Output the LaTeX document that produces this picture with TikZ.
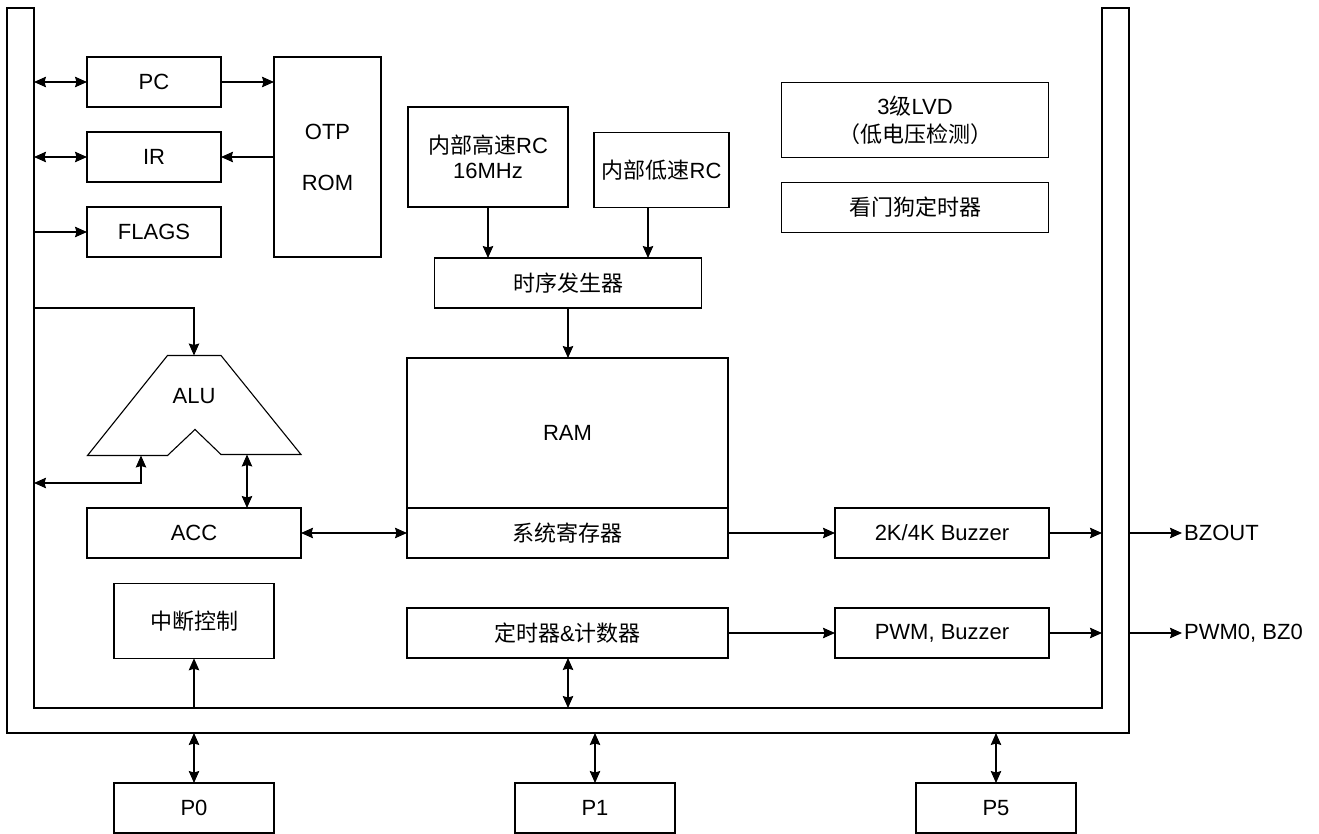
\documentclass[tikz,border=0pt]{standalone}
\usepackage{fontspec}
\setmainfont{Liberation Sans}
\newfontfamily\cjk{Noto Sans CJK SC}
\usetikzlibrary{arrows.meta}
\begin{document}
\begin{tikzpicture}[x=1pt,y=-1pt,
  box/.style={draw, line width=1.1pt, inner sep=0pt, outer sep=0pt, align=center,
    font=\fontsize{22}{25}\selectfont},
  sz/.style 2 args={minimum width=#1pt, minimum height=#2pt},
  tip/.tip={Stealth[length=12pt,width=10.5pt,inset=1.5pt]},
  con/.style={line width=1.1pt, -tip},
  dcon/.style={line width=1.1pt, tip-tip},
  lbl/.style={inner sep=2pt, anchor=west, font=\fontsize{22}{25}\selectfont},
]
\useasboundingbox (0,0) rectangle (1319,834);

% bus
\draw[line width=1.1pt] (7,8) -- (7,733) -- (1129,733) -- (1129,8) -- (1102,8)
  -- (1102,708) -- (34,708) -- (34,8) -- cycle;

% bus attachment points
\coordinate (bPC) at (34,82);
\coordinate (bIR) at (34,157);
\coordinate (bFL) at (34,232);
\coordinate (bALU) at (34,308);
\coordinate (bRet) at (34,483);
\coordinate (bINT) at (194,708);
\coordinate (bTIM) at (568,708);
\coordinate (rBZ) at (1102,533);
\coordinate (rPWM) at (1102,633);
\coordinate (oBZ) at (1129,533);
\coordinate (oPWM) at (1129,633);
\coordinate (oP0) at (194,733);
\coordinate (oP1) at (595,733);
\coordinate (oP5) at (996,733);

% left column
\node[box, sz={134}{50}] (pc) at (154,82) {PC};
\node[box, sz={134}{50}] (ir) at (154,157) {IR};
\node[box, sz={134}{50}] (fl) at (154,232) {FLAGS};
\node[box, sz={107}{200}, font=\fontsize{22}{51}\selectfont] (rom) at (327.5,157) {OTP\\ROM};

% ALU
\draw[line width=1.1pt] (167.5,355.5) -- (221,355.5) -- (301,454.5) -- (221,454.5)
  -- (195,429.5) -- (167.5,455.5) -- (87.5,455.5) -- cycle;
\node[font=\fontsize{22}{25}\selectfont] (alu) at (194,396) {ALU};
\coordinate (aluTop) at (194,355.5);
\coordinate (aluIn) at (141,455.5);
\coordinate (aluOut) at (247,454.5);

\node[box, sz={214}{50}] (acc) at (194,533) {ACC};
\node[box, sz={160}{75}] (int) at (194,620.8) {\cjk 中断控制};

% centre
\node[box, sz={160}{100}] (hrc) at (488,157) {{\cjk 内部高速}RC\\16MHz};
\node[box, sz={135}{75}] (lrc) at (661.5,170) {{\cjk 内部低速}RC};
\coordinate (lrcOut) at (648,207.5);
\node[box, sz={267}{50}] (tg) at (568,283) {\cjk 时序发生器};
\node[box, sz={321}{150}] (ram) at (567.5,433) {RAM};
\node[box, sz={321}{50}] (sys) at (567.5,533) {\cjk 系统寄存器};
\node[box, sz={321}{50}] (tim) at (567.5,633) {{\cjk 定时器}\&{\cjk 计数器}};

% right
\node[box, sz={267}{75}, font=\fontsize{22}{28}\selectfont] (lvd) at (915,120) {3{\cjk 级}LVD\\{\cjk （低电压检测）}};
\node[box, sz={267}{50}] (wdt) at (915,207.5) {\cjk 看门狗定时器};
\node[box, sz={214}{50}] (bz) at (942,533) {2K/4K Buzzer};
\node[box, sz={214}{50}] (pwm) at (942,633) {PWM, Buzzer};

% ports
\node[box, sz={160}{50}] (p0) at (194,808) {P0};
\node[box, sz={160}{50}] (p1) at (595,808) {P1};
\node[box, sz={160}{50}] (p5) at (996,808) {P5};

% outputs
\node[lbl] (bzout) at (1182,533) {BZOUT};
\node[lbl] (pwmout) at (1182,633) {PWM0, BZ0};

% connectors
\draw[dcon] (bPC) -- (pc.west);
\draw[con] (pc.east) -- (pc.east -| rom.west);
\draw[con] (rom.west |- ir.east) -- (ir.east);
\draw[dcon] (bIR) -- (ir.west);
\draw[con] (bFL) -- (fl.west);
\draw[con] (bALU) -- (bALU -| aluTop) -- (aluTop);
\draw[dcon] (bRet) -- (bRet -| aluIn) -- (aluIn);
\draw[dcon] (aluOut) -- (aluOut |- acc.north);
\draw[dcon] (acc.east) -- (sys.west);
\draw[con] (hrc.south) -- (hrc.south |- tg.north);
\draw[con] (lrcOut) -- (lrcOut |- tg.north);
\draw[con] (tg.south) -- (tg.south |- ram.north);
\draw[con] (sys.east) -- (bz.west);
\draw[con] (bz.east) -- (rBZ);
\draw[con] (tim.east) -- (pwm.west);
\draw[con] (pwm.east) -- (rPWM);
\draw[dcon] (tim.south -| bTIM) -- (bTIM);
\draw[con] (bINT) -- (int.south);
\draw[dcon] (oP0) -- (p0.north);
\draw[dcon] (oP1) -- (p1.north);
\draw[dcon] (oP5) -- (p5.north);
\draw[con] (oBZ) -- (bzout.west);
\draw[con] (oPWM) -- (pwmout.west);
\end{tikzpicture}
\end{document}
